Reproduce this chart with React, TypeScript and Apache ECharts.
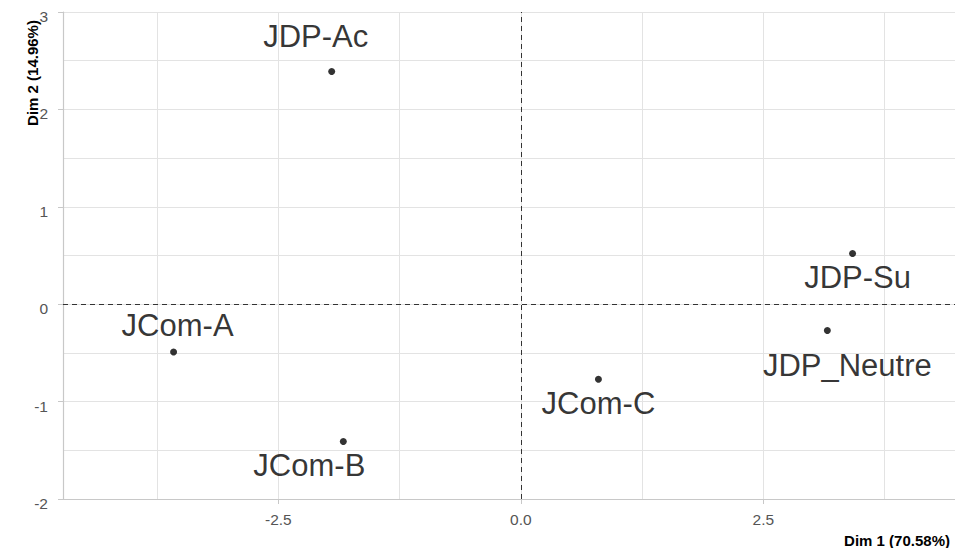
import React, { useEffect, useRef } from "react";
import * as echarts from "echarts";

const names = ["JDP-Ac", "JCom-A", "JCom-B", "JCom-C", "JDP-Su", "JDP_Neutre"];
const dim1 = [-1.95, -3.58, -1.83, 0.8, 3.42, 3.16];
const dim2 = [2.39, -0.49, -1.41, -0.77, 0.52, -0.27];
const labelDx = [-16, 4, -34, 0, 5, 20];
const labelDy = [-35, -26, 24, 24, 24, 35];
const xGridLines = [-3.75, -2.5, -1.25, 0, 1.25, 2.5, 3.75];
const xTickValues = [-2.5, 0, 2.5];
const xTitle = "Dim 1 (70.58%)";
const yTitle = "Dim 2 (14.96%)";

const FONT = "'Liberation Sans', Arial, Helvetica, sans-serif";
const GRID = "#e3e3e3";
const AXIS = "#c8c8c8";

export default function App() {
  const ref = useRef<HTMLDivElement>(null);
  useEffect(() => {
    if (!ref.current) return;
    const chart = echarts.init(ref.current, undefined, { renderer: "svg" });
    const points = names.map((n, i) => ({
      name: n,
      value: [dim1[i], dim2[i]],
      label: { offset: [labelDx[i], labelDy[i]] },
    }));
    chart.setOption({
      animation: false,
      backgroundColor: "#ffffff",
      textStyle: { fontFamily: FONT },
      grid: { left: 63, right: 0, top: 12, bottom: 49, containLabel: false },
      xAxis: {
        type: "value",
        min: -4.72,
        max: 4.476,
        axisLine: { show: true, onZero: false, lineStyle: { color: AXIS, width: 1.2 } },
        axisTick: { show: true, customValues: xTickValues, length: 5, lineStyle: { color: AXIS } },
        axisLabel: {
          customValues: xTickValues,
          formatter: (v: number) => v.toFixed(1),
          color: "#555555",
          fontSize: 15.5,
          margin: 12,
          fontFamily: FONT,
        },
        splitLine: { show: false },
      },
      yAxis: {
        type: "value",
        min: -2,
        max: 3,
        interval: 1,
        axisLine: { show: true, onZero: false, lineStyle: { color: AXIS, width: 1.2 } },
        axisTick: { show: true, length: 5, lineStyle: { color: AXIS } },
        axisLabel: {
          color: "#555555",
          fontSize: 15.5,
          margin: 15,
          verticalAlign: "top",
          lineHeight: 9,
          fontFamily: FONT,
        },
        splitLine: { show: true, lineStyle: { color: GRID, width: 1 } },
        minorTick: { show: false, splitNumber: 2 },
        minorSplitLine: { show: true, lineStyle: { color: GRID, width: 1 } },
      },
      graphic: [
        {
          type: "text",
          x: 32,
          y: 73,
          rotation: Math.PI / 2,
          style: {
            text: yTitle,
            fontFamily: FONT,
            fontSize: 15,
            fontWeight: "bold",
            fill: "#000",
            align: "center",
            verticalAlign: "middle",
          },
        },
        {
          type: "text",
          x: 950,
          y: 540,
          style: {
            text: xTitle,
            fontFamily: FONT,
            fontSize: 15,
            fontWeight: "bold",
            fill: "#000",
            align: "right",
            verticalAlign: "middle",
          },
        },
      ],
      series: [
        {
          type: "line",
          data: [],
          silent: true,
          z: 1,
          markLine: {
            silent: true,
            symbol: "none",
            label: { show: false },
            lineStyle: { color: GRID, type: "solid", width: 1 },
            data: xGridLines.map((v) => ({ xAxis: v })),
          },
        },
        {
          type: "line",
          data: [],
          silent: true,
          z: 2,
          markLine: {
            silent: true,
            symbol: "none",
            label: { show: false },
            lineStyle: { color: "#333333", type: [5, 4], width: 1 },
            data: [{ xAxis: 0 }, { yAxis: 0 }],
          },
        },
        {
          type: "scatter",
          z: 5,
          symbol: "circle",
          symbolSize: 7,
          itemStyle: { color: "#000000" },
          label: {
            show: true,
            position: "inside",
            formatter: "{b}",
            color: "#000000",
            fontSize: 31,
            fontFamily: FONT,
            align: "center",
            verticalAlign: "middle",
          },
          data: points,
        },
      ],
    });
    return () => chart.dispose();
  }, []);
  return <div ref={ref} style={{ width: 955, height: 548, position: "absolute", left: 0, top: 0 }} />;
}
